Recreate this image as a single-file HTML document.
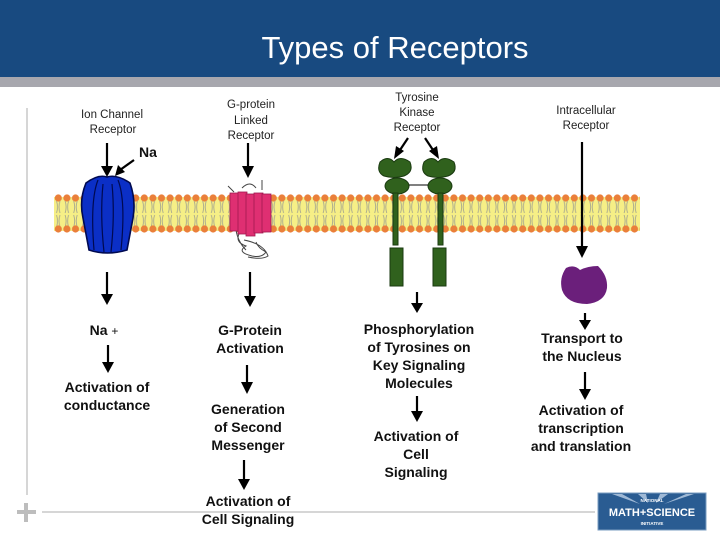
<!DOCTYPE html>
<html><head><meta charset="utf-8"><style>
html,body{margin:0;padding:0;background:#fff;}
svg{display:block;}
.l{font-family:"Liberation Sans",sans-serif;font-size:11.5px;fill:#222;text-anchor:middle;}
.b{font-family:"Liberation Sans",sans-serif;font-size:14px;font-weight:bold;fill:#111;text-anchor:middle;}
</style></head><body>
<svg width="720" height="540" viewBox="0 0 720 540" xmlns="http://www.w3.org/2000/svg">
<defs>
<marker id="ah" markerWidth="8" markerHeight="8" refX="4" refY="7" orient="auto" markerUnits="userSpaceOnUse" viewBox="0 0 8 8">
</marker>
<pattern id="mem" x="54" y="193" width="8.6" height="42" patternUnits="userSpaceOnUse">
<rect x="0" y="4" width="8.6" height="34" fill="#f6ef86"/>
<path d="M2.5 8 q2 6 0 12 M6 8 q-2 6 0 12 M2.5 22 q2 6 0 12 M6 22 q-2 6 0 12" stroke="#a8a890" stroke-width="0.9" fill="none"/>
<circle cx="4.3" cy="5" r="3.6" fill="#ea7f3a"/>
<circle cx="4.3" cy="36" r="3.6" fill="#ea7f3a"/>
</pattern>
</defs>
<!-- header -->
<rect x="0" y="0" width="720" height="77" fill="#184a80"/>
<rect x="0" y="77" width="720" height="10" fill="#a7a7ae"/>
<text x="395" y="58" font-family="'Liberation Sans',sans-serif" font-size="31" fill="#fff" text-anchor="middle">Types of Receptors</text>
<!-- frame lines -->
<line x1="27" y1="108" x2="27" y2="495" stroke="#c8c8c8" stroke-width="1.5"/>
<line x1="42" y1="512" x2="595" y2="512" stroke="#c8c8c8" stroke-width="1.5"/>
<path d="M17 512 h19 M26 503 v19" stroke="#bdbdbd" stroke-width="4"/>
<!-- membrane -->
<rect x="54" y="193" width="586" height="42" fill="url(#mem)"/>
<!-- labels -->
<text class="l" x="112" y="118">Ion Channel</text>
<text class="l" x="113" y="133">Receptor</text>
<text class="l" x="251" y="108">G-protein</text>
<text class="l" x="251" y="124">Linked</text>
<text class="l" x="251" y="139">Receptor</text>
<text class="l" x="417" y="101">Tyrosine</text>
<text class="l" x="417" y="116">Kinase</text>
<text class="l" x="417" y="131">Receptor</text>
<text class="l" x="586" y="114">Intracellular</text>
<text class="l" x="586" y="129">Receptor</text>
<text class="b" x="148" y="157">Na</text>
<!-- arrows helper: line + head -->
<g stroke="#000" stroke-width="2.2" fill="#000">
<line x1="107" y1="143" x2="107" y2="168"/><polygon points="101,166 113,166 107,177" stroke="none"/>
<line x1="134" y1="160" x2="120" y2="170"/><polygon points="115,176 118,165 125,172" stroke="none"/>
<line x1="248" y1="143" x2="248" y2="168"/><polygon points="242,166 254,166 248,178" stroke="none"/>
<line x1="408" y1="138" x2="400" y2="150"/><polygon points="394,159 396,146 404,151" stroke="none"/>
<line x1="425" y1="138" x2="433" y2="150"/><polygon points="439,159 429,151 437,146" stroke="none"/>
<line x1="582" y1="142" x2="582" y2="248"/><polygon points="576,246 588,246 582,258" stroke="none"/>
<line x1="107" y1="272" x2="107" y2="296"/><polygon points="101,294 113,294 107,305" stroke="none"/>
<line x1="108" y1="345" x2="108" y2="364"/><polygon points="102,362 114,362 108,373" stroke="none"/>
<line x1="250" y1="272" x2="250" y2="298"/><polygon points="244,296 256,296 250,307" stroke="none"/>
<line x1="247" y1="365" x2="247" y2="384"/><polygon points="241,382 253,382 247,394" stroke="none"/>
<line x1="244" y1="460" x2="244" y2="481"/><polygon points="238,479 250,479 244,490" stroke="none"/>
<line x1="417" y1="292" x2="417" y2="305"/><polygon points="411,303 423,303 417,313" stroke="none"/>
<line x1="417" y1="396" x2="417" y2="413"/><polygon points="411,411 423,411 417,422" stroke="none"/>
<line x1="585" y1="313" x2="585" y2="322"/><polygon points="579,320 591,320 585,330" stroke="none"/>
<line x1="585" y1="372" x2="585" y2="391"/><polygon points="579,389 591,389 585,400" stroke="none"/>
</g>
<!-- ion channel -->
<path d="M86 183 Q98 174 107 177 Q117 174 130 183 Q136 200 133 218 L127 250 Q107 256 89 250 L83 218 Q79 200 86 183 Z" fill="#0b2fc6" stroke="#000a50" stroke-width="1.6"/>
<path d="M98 180 Q90 200 94 250 M118 180 Q126 200 121 250 M103 184 Q100 215 104 252 M112 184 Q115 215 111 252" stroke="#000a50" stroke-width="1.2" fill="none"/>
<!-- g-protein -->
<path d="M240 232 q-6 10 6 14 q-10 6 6 10 q10 2 14 -4 q-8 -4 -10 -10 M236 230 q2 12 10 20 M244 240 q20 4 24 16 q-6 4 -20 1" stroke="#444" stroke-width="1" fill="none"/>
<path d="M228 186 l6 6 M242 188 q8 -8 14 0 M262 180 v10" stroke="#444" stroke-width="1" fill="none"/>
<g fill="#df2f72" stroke="#a01850" stroke-width="0.8">
<rect x="230" y="193" width="9" height="38"/><rect x="238" y="192" width="9" height="42"/><rect x="246" y="194" width="9" height="42"/><rect x="254" y="193" width="9" height="40"/><rect x="262" y="194" width="9" height="38"/>
</g>
<!-- tyrosine kinase -->
<g fill="#30611d" stroke="#1a3a10" stroke-width="1">
<path d="M380 162 q8 -7 14 0 q6 -7 16 0 q4 10 -6 14 q-10 3 -20 0 q-8 -4 -4 -14z"/>
<path d="M424 162 q8 -7 14 0 q6 -7 16 0 q4 10 -6 14 q-10 3 -20 0 q-8 -4 -4 -14z"/>
<ellipse cx="397" cy="186" rx="12" ry="8"/>
<ellipse cx="440" cy="186" rx="12" ry="8"/>
<rect x="393" y="193" width="5" height="52"/>
<rect x="438" y="193" width="5" height="52"/>
<rect x="390" y="248" width="13" height="38"/>
<rect x="433" y="248" width="13" height="38"/>
</g>
<line x1="409" y1="185" x2="428" y2="185" stroke="#000" stroke-width="1"/>
<!-- intracellular -->
<path d="M566 268 q8 -4 14 2 q8 -4 18 -4 q10 10 9 22 q-2 14 -20 16 q-20 0 -25 -14 q-3 -12 4 -22z" fill="#6b1f7b"/>
<!-- bold texts -->
<text class="b" x="104" y="335">Na <tspan font-weight="normal" font-size="12">+</tspan></text>
<text class="b" x="107" y="392">Activation of</text>
<text class="b" x="107" y="410">conductance</text>
<text class="b" x="250" y="335">G-Protein</text>
<text class="b" x="250" y="353">Activation</text>
<text class="b" x="248" y="414">Generation</text>
<text class="b" x="248" y="432">of Second</text>
<text class="b" x="248" y="450">Messenger</text>
<text class="b" x="248" y="506">Activation of</text>
<text class="b" x="248" y="524">Cell Signaling</text>
<text class="b" x="419" y="334">Phosphorylation</text>
<text class="b" x="419" y="352">of Tyrosines on</text>
<text class="b" x="419" y="370">Key Signaling</text>
<text class="b" x="419" y="388">Molecules</text>
<text class="b" x="416" y="441">Activation of</text>
<text class="b" x="416" y="459">Cell</text>
<text class="b" x="416" y="477">Signaling</text>
<text class="b" x="582" y="343">Transport to</text>
<text class="b" x="582" y="361">the Nucleus</text>
<text class="b" x="581" y="415">Activation of</text>
<text class="b" x="581" y="433">transcription</text>
<text class="b" x="581" y="451">and translation</text>
<!-- logo -->
<rect x="598" y="493" width="108" height="37" fill="#2a5c92" stroke="#7a9cc0" stroke-width="1"/>
<path d="M612 494 L640 504 L622 494 Z M638 494 L648 503 L646 494 Z M660 494 L656 503 L668 494 Z M686 494 L664 504 L694 494 Z" fill="#9fb9d6"/>
<text x="652" y="502" font-family="'Liberation Sans',sans-serif" font-size="4.5" font-weight="bold" fill="#fff" text-anchor="middle">NATIONAL</text>
<text x="652" y="516" font-family="'Liberation Sans',sans-serif" font-size="11" font-weight="bold" fill="#fff" text-anchor="middle">MATH+SCIENCE</text>
<text x="652" y="525" font-family="'Liberation Sans',sans-serif" font-size="4.5" font-weight="bold" fill="#fff" text-anchor="middle">INITIATIVE</text>
</svg>
</body></html>
